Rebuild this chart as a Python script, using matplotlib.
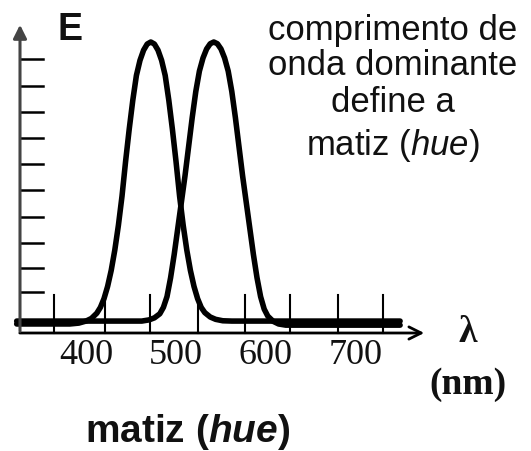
import matplotlib
matplotlib.use('Agg')
import matplotlib.pyplot as plt

plt.rcParams['mathtext.fontset'] = 'custom'
plt.rcParams['mathtext.rm'] = 'Liberation Sans'
plt.rcParams['mathtext.it'] = 'Liberation Sans:italic'
plt.rcParams['mathtext.bf'] = 'Liberation Sans:bold'
plt.rcParams['mathtext.bfit'] = 'Liberation Sans:italic:bold'

# curva 1 (pico ~472 nm) e curva 2 (pico ~542 nm)
wl1 = [323, 382, 392, 400, 406, 412, 416, 420, 424, 428, 432, 436, 440, 444, 448, 452, 456, 460, 464, 468, 472,
       476, 480, 484, 488, 492, 496, 500, 504, 508, 512, 516, 520, 524, 528, 532, 538, 544, 552, 562, 749]
e1 = [0.031, 0.031, 0.034, 0.041, 0.050, 0.068, 0.088, 0.118, 0.160, 0.215, 0.285, 0.370, 0.470, 0.590,
      0.700, 0.800, 0.885, 0.937, 0.972, 0.993, 1.0,
      0.993, 0.972, 0.937, 0.885, 0.800, 0.700, 0.590, 0.470, 0.370, 0.285, 0.215, 0.160, 0.118, 0.088,
      0.070, 0.055, 0.047, 0.042, 0.041, 0.041]

wl2 = [323, 452, 462, 470, 476, 482, 486, 490, 494, 498, 502, 506, 510, 514, 518, 522, 526, 530, 534, 538, 542,
       546, 550, 554, 558, 562, 566, 570, 574, 578, 582, 586, 590, 594, 598, 602, 608, 614, 622, 632, 749]
e2 = [0.041, 0.041, 0.041, 0.045, 0.052, 0.066, 0.088, 0.125, 0.190, 0.270, 0.360, 0.450, 0.540, 0.640,
      0.740, 0.830, 0.900, 0.945, 0.976, 0.994, 1.0,
      0.994, 0.976, 0.945, 0.900, 0.830, 0.740, 0.640, 0.540, 0.450, 0.360, 0.270, 0.190, 0.125, 0.082,
      0.058, 0.040, 0.031, 0.027, 0.027, 0.027]

# marcas dos eixos
xticks = [364, 421, 471, 524, 577, 627, 680, 730]
yticks = [0.14, 0.225, 0.31, 0.40, 0.49, 0.58, 0.67, 0.76, 0.85, 0.94]
xlabels = [400, 500, 600, 700]

note_lines = ['comprimento de', 'onda dominante', 'define a', r'matiz ($\mathit{hue}$)']


def px(x, y):
    # pixel da imagem -> coordenadas (nm, E)
    return 400 + (x - 86) / 0.9, (333 - y) / 291


fig = plt.figure(figsize=(5.31, 4.51), dpi=100)
ax = fig.add_axes([0, 0, 1, 1])
ax.set_xlim(px(0, 0)[0], px(531, 0)[0])
ax.set_ylim(px(0, 451)[1], px(0, 0)[1])
ax.axis('off')

# eixos com setas
ax.annotate('', xy=px(427, 333), xytext=px(17, 333),
            arrowprops=dict(arrowstyle='->', lw=2.0, color='black', mutation_scale=22))
ax.annotate('', xy=px(20, 22), xytext=px(20, 334),
            arrowprops=dict(arrowstyle='-|>', lw=2.2, color='#444444', mutation_scale=20))

for t in xticks:
    ax.plot([t, t], [0, 0.13], color='black', lw=1.5)
for t in yticks:
    ax.plot([px(20, 0)[0], px(43, 0)[0]], [t, t], color='black', lw=1.8)

ax.plot(wl1, e1, color='black', lw=4.0, solid_joinstyle='round', solid_capstyle='round')
ax.plot(wl2, e2, color='black', lw=4.0, solid_joinstyle='round', solid_capstyle='round')

for v in xlabels:
    ax.text(v, px(0, 356)[1], str(v), ha='center', va='center', fontsize=26,
            family='Liberation Serif', color='#111111')

ax.text(*px(468, 333), 'λ', ha='center', va='center', fontsize=27,
        family='Liberation Serif', fontweight='bold', color='#111111')
ax.text(*px(468, 385), '(nm)', ha='center', va='center', fontsize=27,
        family='Liberation Serif', fontweight='bold', color='#111111')

ax.text(*px(70, 40), 'E', ha='center', va='baseline', fontsize=27,
        family='Liberation Sans', fontweight='bold', color='#111111')

for line, base in zip(note_lines, [40, 75, 112, 155]):
    ax.text(*px(393, base), line, ha='center', va='baseline', fontsize=25,
            family='Liberation Sans', color='#111111')

ax.text(*px(188, 442), r'matiz ($\mathbfit{hue}$)', ha='center', va='baseline', fontsize=28,
        family='Liberation Sans', fontweight='bold', color='#111111')

fig.savefig('out.png', dpi=100)
